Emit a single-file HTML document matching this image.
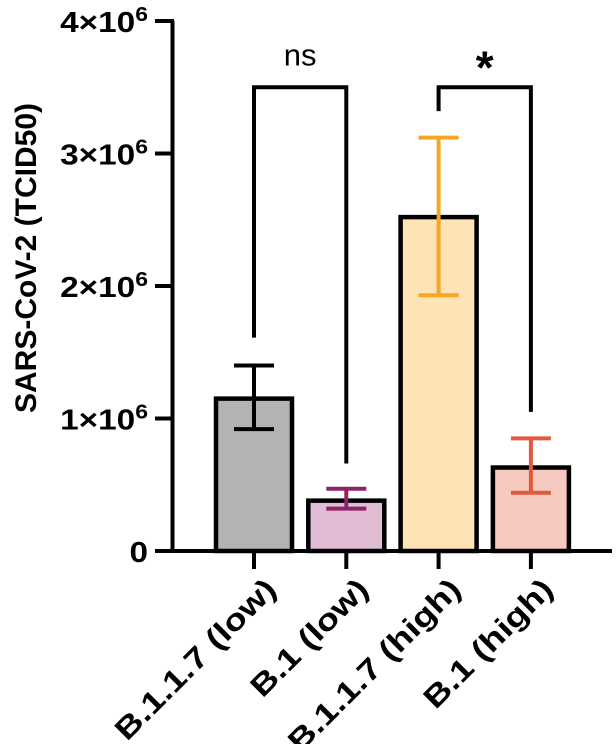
<!DOCTYPE html>
<html><head><meta charset="utf-8"><style>
html,body{margin:0;padding:0;background:#fff;}
svg{display:block;font-family:"Liberation Sans",Arial,sans-serif;}
</style></head><body>
<svg id="chart" width="616" height="744" viewBox="0 0 616 744">
<g id="g"></g>
</svg>
<script>
const categories = ["B.1.1.7 (low)", "B.1 (low)", "B.1.1.7 (high)", "B.1 (high)"];
const means = [1.15, 0.38, 2.52, 0.63];
const errLow = [0.92, 0.32, 1.93, 0.44];
const errHigh = [1.40, 0.47, 3.12, 0.85];
const yTicks = [0, 1, 2, 3, 4];
const yTickLabels = ["0", "1×10<tspan dy='-11' font-size='20'>6</tspan>", "2×10<tspan dy='-11' font-size='20'>6</tspan>", "3×10<tspan dy='-11' font-size='20'>6</tspan>", "4×10<tspan dy='-11' font-size='20'>6</tspan>"];
const fills = ["#b3b3b3", "#e0bcd5", "#fde3b5", "#f5c9c0"];
const errColors = ["#000000", "#8e2467", "#f5a623", "#e05a3e"];
const comparisons = [[0, 1, "ns", 1.61, 0.66, 3.50], [2, 3, "*", 3.32, 1.05, 3.50]];

const NS = "http://www.w3.org/2000/svg";
const g = document.getElementById("g");
const y0 = 551, yTop = 21, yMax = 4;
const y = v => y0 - (v / yMax) * (y0 - yTop);
const x0 = 254, step = 92.3;
const x = i => x0 + i * step;
const barW = 76;
function el(tag, attrs, parent) {
  const e = document.createElementNS(NS, tag);
  for (const k in attrs) e.setAttribute(k, attrs[k]);
  (parent || g).appendChild(e);
  return e;
}
categories.forEach((c, i) => {
  const b = el("rect", {x: x(i) - barW / 2, y: y(means[i]), width: barW, height: y0 - y(means[i]), fill: fills[i], stroke: "#000", "stroke-width": 4.5});
  
  
  const eg = el("g", {stroke: errColors[i], "stroke-width": 4, fill: "none"});
  
  
  el("line", {x1: x(i), x2: x(i), y1: y(errLow[i]), y2: y(errHigh[i])}, eg);
  el("line", {x1: x(i) - 20, x2: x(i) + 20, y1: y(errLow[i]), y2: y(errLow[i])}, eg);
  el("line", {x1: x(i) - 20, x2: x(i) + 20, y1: y(errHigh[i]), y2: y(errHigh[i])}, eg);
  const t = el("line", {x1: x(i), x2: x(i), y1: y0, y2: y0 + 18, stroke: "#000", "stroke-width": 4});
  
  
  const ax = x(i) + 24, ay = y0 + 40;
  const lab = el("text", {x: 0, y: 0, "text-anchor": "end", "font-size": 30, "font-weight": "bold", transform: `translate(${ax} ${ay}) rotate(-45) scale(1.22 1)`});
  lab.textContent = c;
  
  
});
const ya = el("line", {x1: 172.5, x2: 172.5, y1: yTop, y2: y0 + 2, stroke: "#000", "stroke-width": 4});


const xa = el("line", {x1: 155, x2: 612, y1: y0, y2: y0, stroke: "#000", "stroke-width": 4});


yTicks.forEach((v, i) => {
  const t = el("line", {x1: 155, x2: 174, y1: y(v), y2: y(v), stroke: "#000", "stroke-width": 4});
  
  
  const l = el("text", {x: 0, y: 0, "text-anchor": "end", "font-size": 29, "font-weight": "bold", transform: `translate(148 ${y(v) + 11}) scale(1.15 1)`});
  l.innerHTML = yTickLabels[i];
  
  
});
const yt = el("text", {x: 36, y: 258, "text-anchor": "middle", "font-size": 30, "font-weight": "bold", transform: "rotate(-90 36 258)"});
yt.textContent = "SARS-CoV-2 (TCID50)";


comparisons.forEach(cmp => {
  const [a, b, txt, la, lb, top] = cmp;
  const p = el("path", {d: `M${x(a)},${y(la)} V${y(top)} H${x(b)} V${y(lb)}`, fill: "none", stroke: "#000", "stroke-width": 4});
  
  
  const t = el("text", {x: (x(a) + x(b)) / 2, y: txt === "*" ? y(top) - 4 : y(top) - 22, "text-anchor": "middle", "font-size": txt === "*" ? 46 : 31, "font-weight": txt === "*" ? "bold" : "normal"});
  t.textContent = txt;
  
  
});
</script>
</body></html>
